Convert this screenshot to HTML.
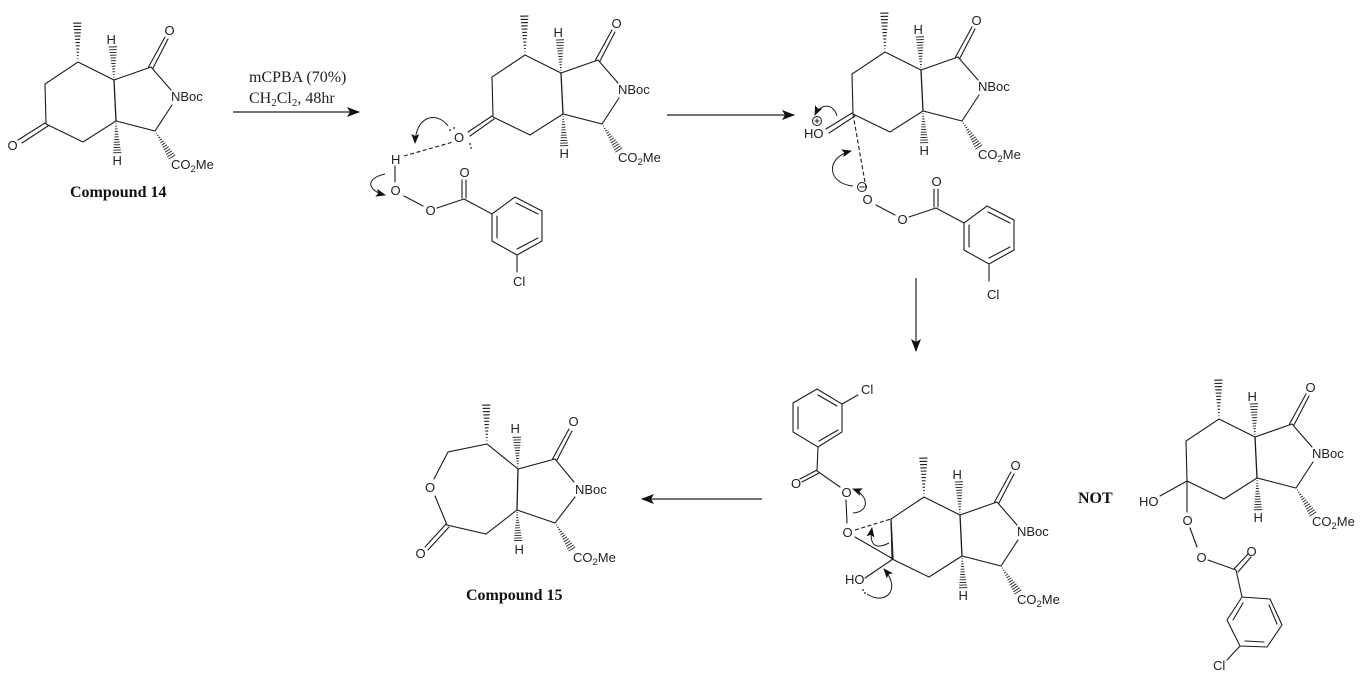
<!DOCTYPE html>
<html><head><meta charset="utf-8"><style>
html,body{margin:0;padding:0;background:#fff}
svg{display:block}
.l{stroke:#1c1c1c;stroke-width:1.1;fill:none;stroke-linecap:round}
.d{stroke:#1c1c1c;stroke-width:1.1;fill:none;stroke-dasharray:4 2.5}
.c{stroke:#1c1c1c;stroke-width:1;fill:none}
text{font-family:"Liberation Sans",sans-serif;font-size:13px;fill:#222}
.u{font-size:9.5px}
.r{font-family:"Liberation Serif",serif;font-size:16px}
.q{font-size:11px}
.b{font-family:"Liberation Serif",serif;font-weight:bold;font-size:16px;fill:#111}
</style></head><body>
<svg width="1361" height="679" viewBox="0 0 1361 679" xmlns="http://www.w3.org/2000/svg">
<defs>
<g id="h" stroke="#1c1c1c" stroke-width="1">
<path d="M-.5-3H.5M-.8-6H.8M-1.2-9H1.2M-1.500-12H1.500M-1.900-15H1.900M-2.200-18H2.200M-2.500-21H2.500M-2.900-24H2.900M-3.200-27H3.200M-3.500-30H3.500M-3.800-33H3.800M-4.100-36H4.100"/>
</g>
<g id="sk">
<path class="l" d="M46 124L45 84L78 62L114 80L151 67L171 90M172 105L155 131L116 121L83 142L46 124"/>
<path class="l" style="stroke-width:1.300" d="M114 80L116 121"/>
<path class="l" d="M148.500 67L165 37M153 68L168 39"/>
<use href="#h" transform="translate(78,62) rotate(-1) scale(1,1.08)"/>
<use href="#h" transform="translate(114,80) rotate(-2) scale(1,.92)"/>
<use href="#h" transform="translate(116,121) rotate(178) scale(1,.88)"/>
<use href="#h" transform="translate(155,131) rotate(147) scale(1,.86)"/>
</g>
<g id="bz">
<path class="l" d="M404 196L423 206M437 208L464 199M462 180L462 198M466 180L466 198M464 199L492 214L515 197L542 211L542 241L517 255L492 241L492 214M497 216L497 238M516 203L538 214M517 249L538 238M517 255L517 272"/>
</g>
<marker id="a" markerWidth="14" markerHeight="10" refX="12" refY="5" orient="auto" markerUnits="userSpaceOnUse"><path d="M0 0L13 5L0 10L3 5Z" fill="#111"/></marker>
<marker id="m" markerWidth="12" markerHeight="10" refX="9" refY="4" orient="auto" markerUnits="userSpaceOnUse"><path d="M0 0L10 4L0 8L2 4Z" fill="#111"/></marker>
</defs>

<!-- Compound 14 -->
<use href="#sk"/>
<path class="l" d="M45 123L18 140M48 126L22 143"/>
<text x="106.500" y="44">H</text><text x="112.500" y="165">H</text>
<text x="164.500" y="35">O</text><text x="7.500" y="150">O</text>
<text x="171" y="101">NBoc</text>
<text x="171" y="169">CO<tspan class="u" dy="3">2</tspan><tspan dy="-3">Me</tspan></text>
<text class="b" x="70" y="197">Compound 14</text>

<!-- Reagents and arrow 1 -->
<text class="r" x="249" y="82">mCPBA (70%)</text>
<text class="r" x="249" y="103">CH<tspan class="q" dy="3">2</tspan><tspan dy="-3">Cl</tspan><tspan class="q" dy="3">2</tspan><tspan dy="-3">, 48hr</tspan></text>
<path d="M233 112H359" stroke="#444" stroke-width="1.400" marker-end="url(#a)"/>

<!-- Structure 2 -->
<use href="#sk" transform="translate(447,-7)"/>
<path class="l" d="M492 116L468 132M494 119L470 136"/>
<text x="553.500" y="37">H</text><text x="559.500" y="158">H</text>
<text x="611.500" y="28">O</text>
<text x="618" y="94">NBoc</text>
<text x="618" y="162">CO<tspan class="u" dy="3">2</tspan><tspan dy="-3">Me</tspan></text>
<text x="454" y="142">O</text>
<g fill="#111"><circle cx="450" cy="130" r=".9"/><circle cx="454" cy="128" r=".9"/><circle cx="470" cy="144" r=".9"/><circle cx="471" cy="148" r=".9"/></g>
<path class="d" d="M404 156L453 142"/>
<path class="c" d="M448 126C438 112 416 114 415 143" marker-end="url(#m)"/>
<path class="c" d="M385 174C366 178 366 190 385 195" marker-end="url(#m)"/>
<text x="391" y="164">H</text>
<path class="l" d="M395 166V182"/>
<text x="390.500" y="195">O</text><text x="425.500" y="215">O</text><text x="459.500" y="177">O</text>
<use href="#bz"/>
<text x="513" y="286">Cl</text>

<!-- Arrow 2 -->
<path d="M667 115H794" stroke="#444" stroke-width="1.400" marker-end="url(#a)"/>

<!-- Structure 3 -->
<use href="#sk" transform="translate(807,-10)"/>
<path class="l" d="M852 113L826 129M855 116L829 133"/>
<text x="913.500" y="34">H</text><text x="919.500" y="155">H</text>
<text x="971.500" y="25">O</text>
<text x="978" y="91">NBoc</text>
<text x="978" y="159">CO<tspan class="u" dy="3">2</tspan><tspan dy="-3">Me</tspan></text>
<text x="804" y="138">HO</text>
<circle class="c" cx="817" cy="121" r="4.500"/><path class="c" d="M814.500 121H819.500M817 118.500V123.500"/>
<path class="c" d="M837 116C833 102 820 104 815 115" marker-end="url(#m)"/>
<path class="d" d="M853 114L866 188"/>
<circle class="c" cx="862" cy="187" r="4.500"/><path class="c" d="M859.500 187H864.500"/>
<path class="c" d="M853 186C828 184 824 158 851 151" marker-end="url(#m)"/>
<g transform="translate(472,9)"><use href="#bz"/></g>
<text x="862.500" y="204">O</text><text x="897.500" y="224">O</text><text x="931.500" y="186">O</text>
<text x="987" y="299">Cl</text>

<!-- Arrow 3 -->
<path d="M916 278V351" stroke="#444" stroke-width="1.400" marker-end="url(#a)"/>

<!-- Structure 5 -->
<use href="#sk" transform="translate(846,435)"/>
<text x="952.500" y="479">H</text><text x="958.500" y="600">H</text>
<text x="1010.500" y="470">O</text>
<text x="1017" y="536">NBoc</text>
<text x="1017" y="604">CO<tspan class="u" dy="3">2</tspan><tspan dy="-3">Me</tspan></text>
<path class="l" d="M817 389L842 404L842 432L818 447L793 432L793 403L817 389M798 407V429M818 395L837 406M819 441L838 430M842 404L858 395"/>
<path class="l" d="M818 447L817 471L840 487M817 470L800 479M819 473L802 482M846 500L847 523M855 537L893 559"/>
<path class="d" d="M855 530L891 519"/>
<path class="l" style="stroke-width:1.300" d="M891 519L893 559"/>
<path class="l" d="M893 559L865 578"/>
<text x="861" y="394">Cl</text>
<text x="791" y="488">O</text><text x="841.500" y="497">O</text><text x="842.500" y="537">O</text>
<text x="845" y="584">HO</text>
<g fill="#111"><circle cx="863" cy="590" r=".9"/><circle cx="865" cy="593" r=".9"/></g>
<path class="c" d="M867 594C885 606 902 590 884 569" marker-end="url(#m)"/>
<path class="c" d="M889 543C875 550 869 545 872 528" marker-end="url(#m)"/>
<path class="c" d="M853 513C870 512 869 495 853 489" marker-end="url(#m)"/>

<!-- Arrow 4 -->
<path d="M762 499H642" stroke="#444" stroke-width="1.400" marker-end="url(#a)"/>

<!-- Compound 15 -->
<path class="l" d="M434 479L448 452L487 444L518 469L555 459L574 482M575 497L555 523L517 510L486 534L447 525L435 496"/>
<path class="l" style="stroke-width:1.300" d="M518 469L517 510"/>
<path class="l" d="M552.500 459L569 429M557 460L572 431M446 524L425 547M449 527L428 550"/>
<use href="#h" transform="translate(487,444) rotate(-1) scale(1,1.08)"/>
<use href="#h" transform="translate(518,469) rotate(-2) scale(1,.88)"/>
<use href="#h" transform="translate(517,510) rotate(178) scale(1,.85)"/>
<use href="#h" transform="translate(555,523) rotate(147) scale(1,.86)"/>
<text x="510.500" y="433">H</text><text x="514.500" y="554">H</text>
<text x="568.500" y="426">O</text><text x="425" y="492">O</text><text x="415.500" y="558">O</text>
<text x="575" y="494">NBoc</text>
<text x="573" y="562">CO<tspan class="u" dy="3">2</tspan><tspan dy="-3">Me</tspan></text>
<text class="b" x="466" y="600">Compound 15</text>

<!-- NOT -->
<text class="b" x="1078" y="503">NOT</text>
<use href="#sk" transform="translate(1141,357)"/>
<text x="1247.500" y="401">H</text><text x="1253.500" y="522">H</text>
<text x="1305.500" y="392">O</text>
<text x="1312" y="458">NBoc</text>
<text x="1312" y="526">CO<tspan class="u" dy="3">2</tspan><tspan dy="-3">Me</tspan></text>
<path class="l" d="M1187 481L1160 496M1187 481V512M1190 528L1197 547M1208 560L1236 570L1242 597L1270 599L1282 625L1267 647L1240 646L1227 620L1242 597M1234 569L1248 554M1238 572L1251 557M1269 605L1277 624M1245 641L1264 642M1233 620L1243 603M1240 646L1227 660"/>
<text x="1139" y="506">HO</text>
<text x="1182.500" y="525">O</text><text x="1196.500" y="562">O</text><text x="1246.500" y="556">O</text>
<text x="1213" y="670">Cl</text>
</svg>
</body></html>
